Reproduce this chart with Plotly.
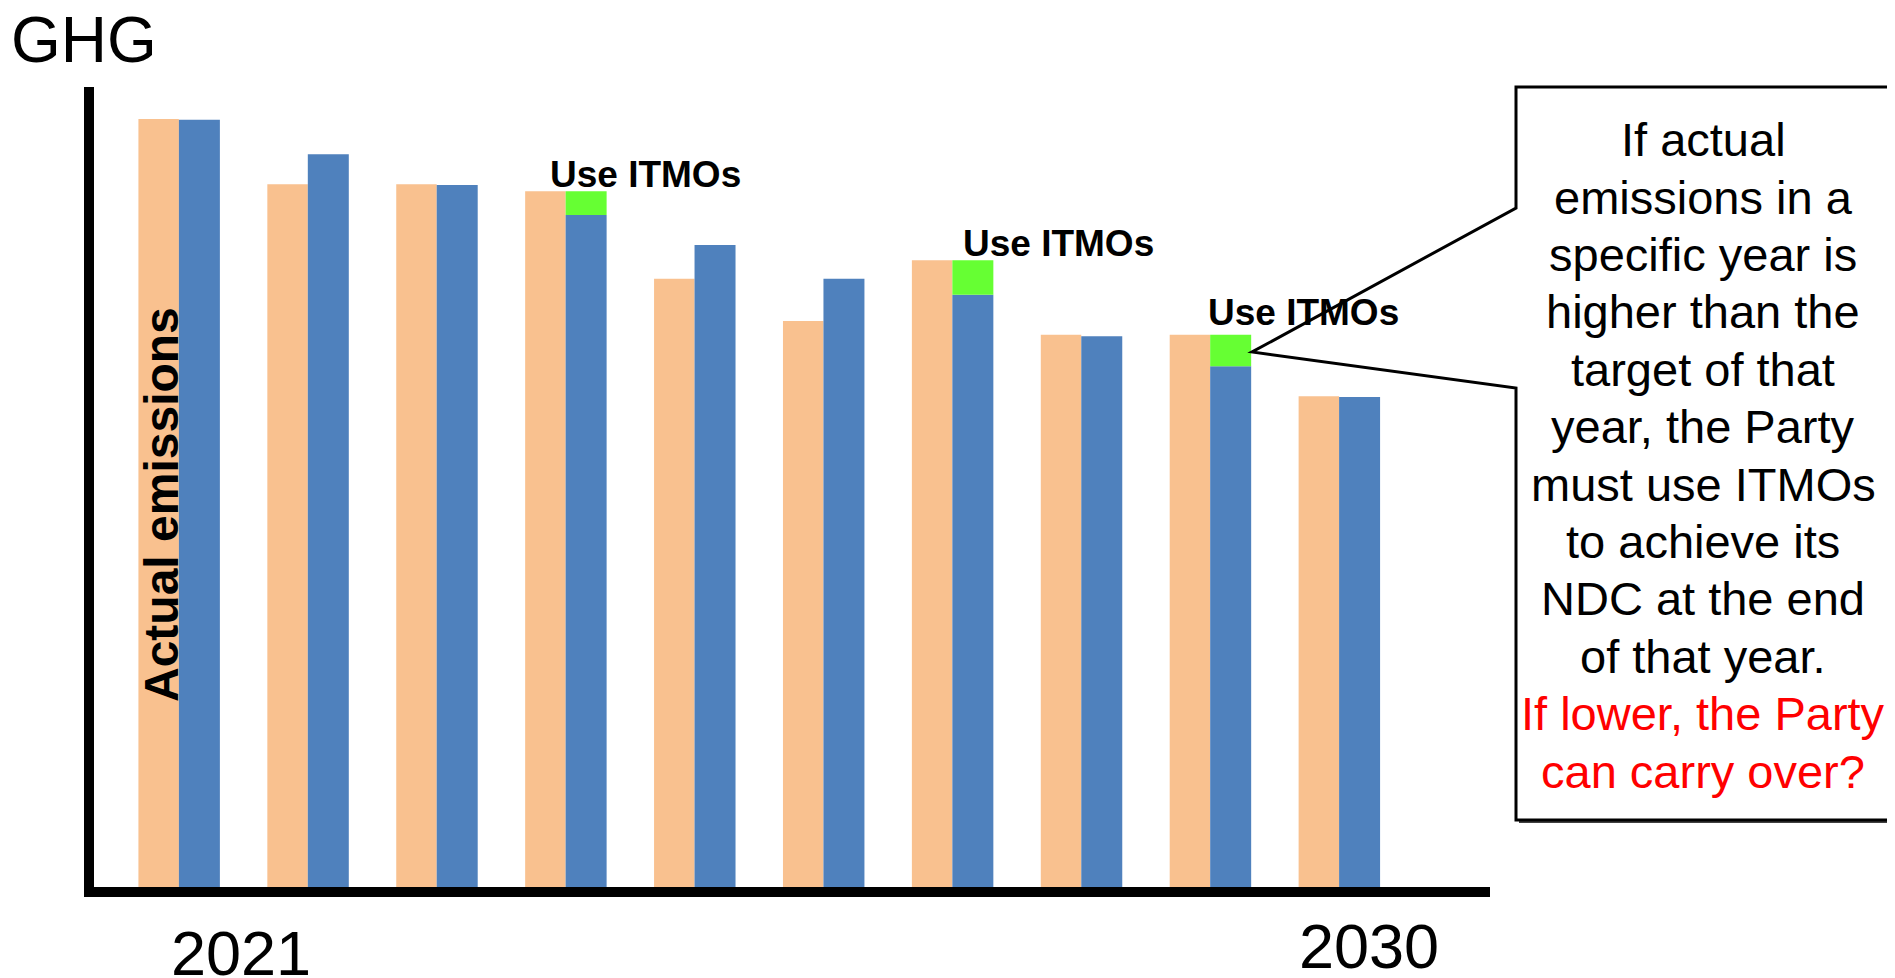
import plotly.graph_objects as go

# page has an 8px body margin, so the figure is drawn 8px in from the corner
OFF = 8
W, H = 1895 - 2 * OFF, 978 - OFF

years = [2021, 2022, 2023, 2024, 2025, 2026, 2027, 2028, 2029, 2030]
actual = [100.0, 91.5, 91.5, 90.6, 79.2, 73.7, 81.6, 71.9, 71.9, 63.9]
target = [99.9, 95.4, 91.4, 87.5, 83.6, 79.2, 77.1, 71.7, 67.8, 63.8]
itmos = [0, 0, 0, 3.1, 0, 0, 4.5, 0, 4.1, 0]
year_labels = ["2021", "2030"]
box_lines = [
    "If actual",
    "emissions in a",
    "specific year is",
    "higher than the",
    "target of that",
    "year, the Party",
    "must use ITMOs",
    "to achieve its",
    "NDC at the end",
    "of that year.",
]
red_lines = ["If lower, the Party", "can carry over?"]

ORANGE = "#F9C18F"
BLUE = "#4F81BD"
GREEN = "#66FF33"
FONT = "Liberation Sans, Arial, sans-serif"


def px(x):
    return (x - OFF) / W


def py(y):
    return 1 - (y - OFF) / H


def mid(baseline, size):
    # vertical centre of a text box whose baseline sits at `baseline`
    return py(baseline - 0.3465 * size)


BW = 0.314

fig = go.Figure()
fig.add_trace(go.Bar(x=years, y=actual, width=BW, offset=-BW,
                     marker=dict(color=ORANGE, line=dict(width=0)), name="Actual emissions"))
fig.add_trace(go.Bar(x=years, y=target, width=BW + 0.004, offset=0,
                     marker=dict(color=BLUE, line=dict(width=0)), name="Target"))
fig.add_trace(go.Bar(x=years, y=itmos, base=target, width=BW + 0.004, offset=0,
                     marker=dict(color=GREEN, line=dict(width=0)), name="ITMOs"))

annotations = [
    dict(text="GHG", x=px(84), y=mid(62, 64), font=dict(size=64)),
    dict(text=year_labels[0], x=px(241), y=mid(975, 63), font=dict(size=63)),
    dict(text=year_labels[1], x=px(1369), y=mid(968, 63), font=dict(size=63)),
    dict(text="<b>Actual emissions</b>", x=px(162), y=py(505), textangle=-90,
         font=dict(size=48)),
    dict(text="<b>Use ITMOs</b>", x=px(645), y=mid(187, 37), font=dict(size=37)),
    dict(text="<b>Use ITMOs</b>", x=px(1058), y=mid(256, 37), font=dict(size=37)),
    dict(text="<b>Use ITMOs</b>", x=px(1303), y=mid(325, 37), font=dict(size=37)),
]
for i, line in enumerate(box_lines + red_lines):
    color = "#FF0000" if line in red_lines else "black"
    annotations.append(dict(text=line, x=px(1703), y=mid(156 + 57.4 * i, 47),
                            font=dict(size=47, color=color)))
for a in annotations:
    a.update(xref="paper", yref="paper", xanchor="center", yanchor="middle",
             showarrow=False)
    a["font"].setdefault("color", "black")
    a["font"]["family"] = FONT

callout = "M {},{} L {},{} L {},{} L {},{} L {},{} L {},{} L {},{} Z".format(
    px(1516), py(87), px(1891), py(87), px(1891), py(820), px(1516), py(820),
    px(1516), py(388), px(1252), py(352), px(1516), py(208))
shadow = "M {},{} L {},{} L {},{} L {},{} Z".format(
    px(1519), py(90), px(1894), py(90), px(1894), py(823), px(1519), py(823))

shapes = [
    dict(type="line", x0=px(89), x1=px(89), y0=py(87), y1=py(897),
         line=dict(color="black", width=10)),
    dict(type="line", x0=px(85), x1=px(1490), y0=py(892), y1=py(892),
         line=dict(color="black", width=10)),
    dict(type="path", path=shadow, fillcolor="#404040", line=dict(width=0)),
    dict(type="path", path=callout, fillcolor="white",
         line=dict(color="black", width=3)),
]
for s in shapes:
    s.update(xref="paper", yref="paper", layer="above")

px_per_year = 128.91
x0 = years[0] - (178.9 - OFF) / px_per_year
y_scale = 7.68
zero_px = 887 - OFF
fig.update_layout(
    width=W,
    height=H,
    autosize=False,
    margin=dict(l=0, r=0, t=0, b=0, pad=0),
    barmode="overlay",
    showlegend=False,
    paper_bgcolor="white",
    plot_bgcolor="white",
    xaxis=dict(range=[x0, x0 + W / px_per_year], visible=False, fixedrange=True),
    yaxis=dict(range=[-(H - zero_px) / y_scale, zero_px / y_scale], visible=False,
               fixedrange=True),
    annotations=annotations,
    shapes=shapes,
)

fig.write_html("out.html", config={"displayModeBar": False})
